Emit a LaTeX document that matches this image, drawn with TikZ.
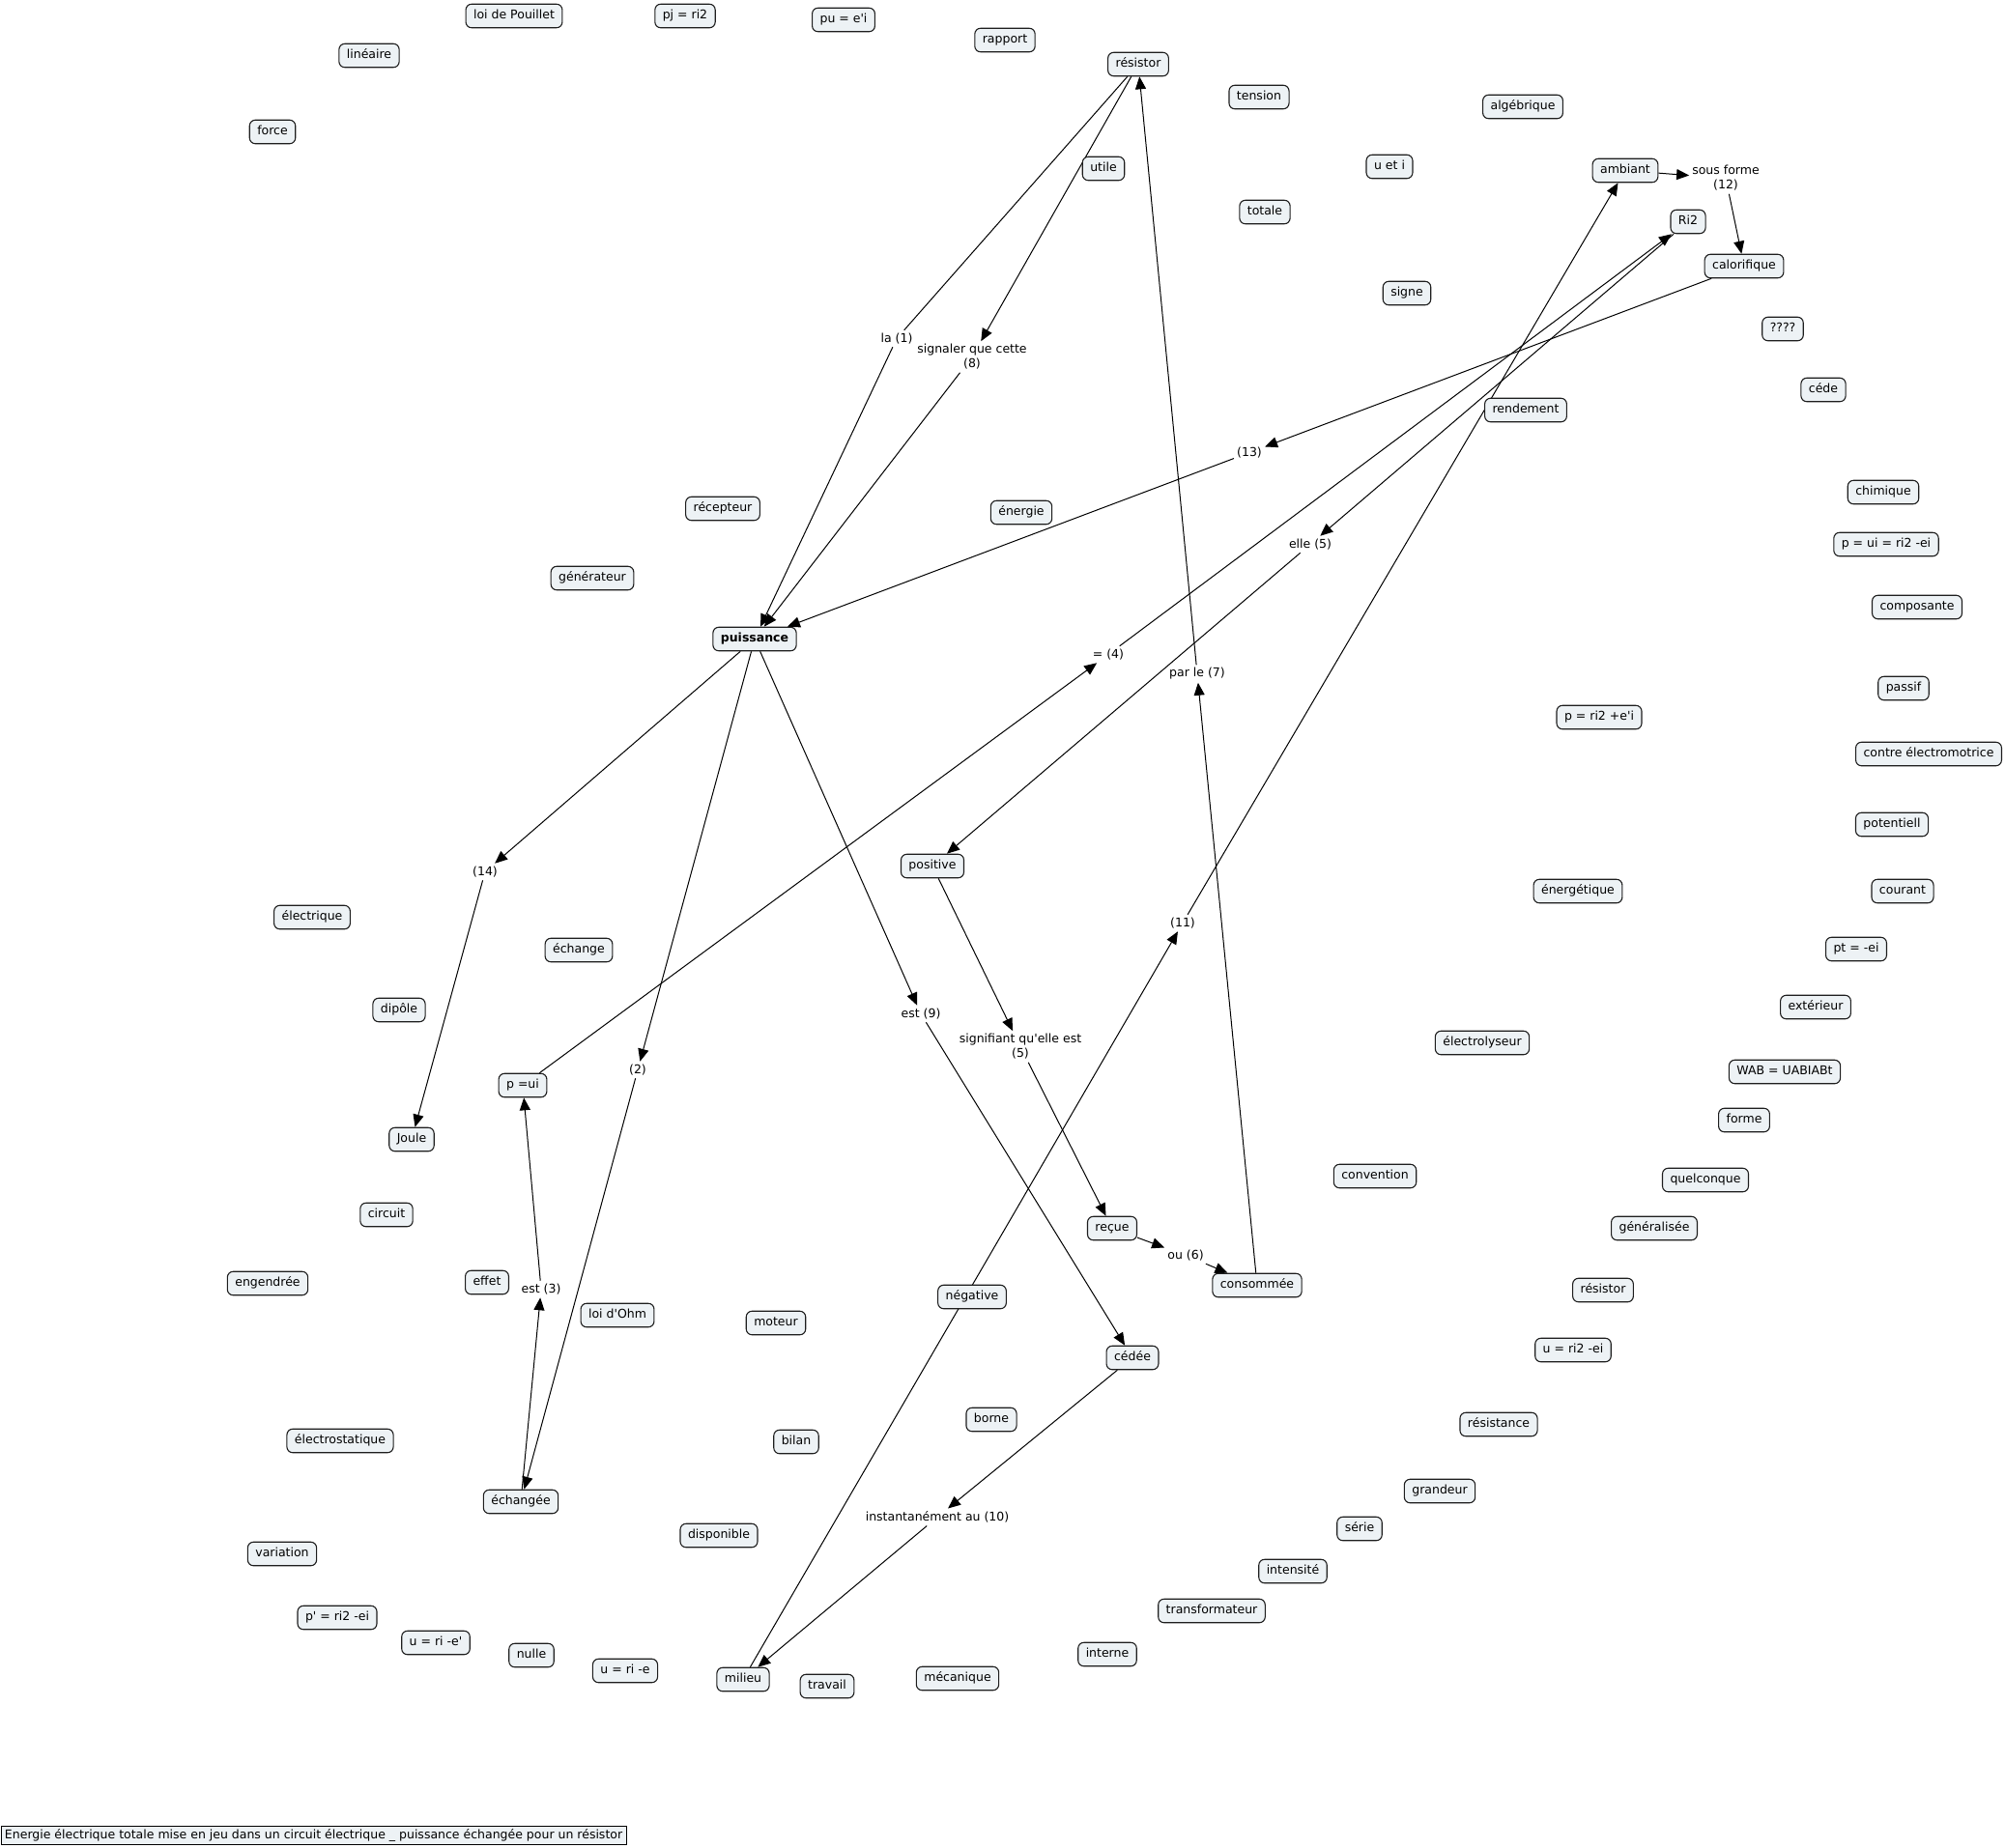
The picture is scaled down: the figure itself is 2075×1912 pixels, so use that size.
\documentclass[tikz,border=0pt]{standalone}
\usepackage{fontspec}
\newfontfamily\dv{DejaVu Sans}
\usetikzlibrary{arrows.meta}
\definecolor{cfill}{RGB}{237,242,245}
\definecolor{cline}{RGB}{30,30,30}
\pgfdeclarelayer{bg}
\pgfdeclarelayer{paper}
\pgfsetlayers{paper,bg,main}
\tikzset{
  fs/.style={font=\dv\fontsize{12.5}{15}\selectfont},
  c/.style={fs, draw=cline, fill=cfill, rounded corners=6pt, line width=1.1pt,
    inner xsep=8pt, inner ysep=6pt, text height=9.5pt, text depth=3pt},
  lbl/.style={fs, inner sep=3pt, align=center},
  ln/.style={draw=black, line width=1pt},
  arr/.style={ln, -{Triangle[length=13pt,width=11pt]}},
}
\begin{document}
\begin{tikzpicture}[x=1pt,y=-1pt]
\useasboundingbox (0,0) rectangle (2075,1912);
\begin{pgfonlayer}{paper}
\fill[white] (0,0) rectangle (2075,1912);
\end{pgfonlayer}
\begin{scope}[shift={(0,1.5)}]
% concepts
\node[c] (pouillet) at (532,15) {loi de Pouillet};
\node[c] (pj) at (709,15) {pj = ri2};
\node[c] (pu) at (873,19) {pu = e'i};
\node[c] (lineaire) at (382,56) {linéaire};
\node[c] (rapport) at (1040,40) {rapport};
\node[c] (res1) at (1178,65) {résistor};
\node[c] (force) at (282,135) {force};
\node[c] (tension) at (1303,99) {tension};
\node[c] (algeb) at (1576,109) {algébrique};
\node[c] (utile) at (1142,173) {utile};
\node[c] (uei) at (1438,171) {u et i};
\node[c] (amb) at (1682,175) {ambiant};
\node[c] (totale) at (1309,218) {totale};
\node[c] (ri2) at (1747,228) {Ri2};
\node[c] (calo) at (1805,274) {calorifique};
\node[c] (signe) at (1456,302) {signe};
\node[c] (qqq) at (1845,339) {????};
\node[c] (cede) at (1887,402) {céde};
\node[c] (rend) at (1579,423) {rendement};
\node[c] (chim) at (1949,508) {chimique};
\node[c] (recep) at (748,525) {récepteur};
\node[c] (energie) at (1057,529) {énergie};
\node[c] (pui3) at (1952,562) {p = ui = ri2 -ei};
\node[c] (gener) at (613,597) {générateur};
\node[c] (compo) at (1984,627) {composante};
\node[c,font=\dv\bfseries\fontsize{12.5}{15}\selectfont] (puis) at (781,660) {puissance};
\node[c] (passif) at (1970,711) {passif};
\node[c] (pri2) at (1655,741) {p = ri2 +e'i};
\node[c] (contre) at (1996,779) {contre électromotrice};
\node[c] (potent) at (1958,852) {potentiell};
\node[c] (pos) at (965,895) {positive};
\node[c] (energet) at (1633,921) {énergétique};
\node[c] (courant) at (1969,921) {courant};
\node[c] (elec) at (323,948) {électrique};
\node[c] (echange) at (599,982) {échange};
\node[c] (pt) at (1921,981) {pt = -ei};
\node[c] (dipole) at (413,1044) {dipôle};
\node[c] (exter) at (1879,1041) {extérieur};
\node[c] (electro) at (1534,1078) {électrolyseur};
\node[c] (wab) at (1847,1108) {WAB = UABIABt};
\node[c] (pui) at (541,1122) {p =ui};
\node[c] (forme) at (1805,1158) {forme};
\node[c] (joule) at (426,1178) {Joule};
\node[c] (conv) at (1423,1216) {convention};
\node[c] (quel) at (1765,1220) {quelconque};
\node[c] (circuit) at (400,1256) {circuit};
\node[c] (recue) at (1151,1270) {reçue};
\node[c] (gene) at (1712,1270) {généralisée};
\node[c] (engen) at (277,1327) {engendrée};
\node[c] (effet) at (504,1326) {effet};
\node[c] (cons) at (1301,1329) {consommée};
\node[c] (res2) at (1659,1334) {résistor};
\node[c] (neg) at (1006,1341) {négative};
\node[c] (ohm) at (639,1360) {loi d'Ohm};
\node[c] (moteur) at (803,1368) {moteur};
\node[c] (uri2) at (1628,1396) {u = ri2 -ei};
\node[c] (cedee) at (1172,1404) {cédée};
\node[c] (borne) at (1026,1468) {borne};
\node[c] (resist) at (1551,1473) {résistance};
\node[c] (estat) at (352,1490) {électrostatique};
\node[c] (bilan) at (824,1491) {bilan};
\node[c] (grand) at (1490,1542) {grandeur};
\node[c] (echg) at (539,1553) {échangée};
\node[c] (serie) at (1407,1581) {série};
\node[c] (dispo) at (744,1588) {disponible};
\node[c] (variation) at (292,1607) {variation};
\node[c] (intens) at (1338,1625) {intensité};
\node[c] (transfo) at (1254,1666) {transformateur};
\node[c] (pprime) at (349,1673) {p' = ri2 -ei};
\node[c] (urie1) at (451,1699) {u = ri -e'};
\node[c] (nulle) at (550,1712) {nulle};
\node[c] (interne) at (1146,1711) {interne};
\node[c] (urie2) at (647,1728) {u = ri -e};
\node[c] (milieu) at (769,1737) {milieu};
\node[c] (travail) at (856,1744) {travail};
\node[c] (meca) at (991,1736) {mécanique};
% linking phrases
\node[lbl] (sf12) at (1786,183) {sous forme\\(12)};
\node[lbl] (la1) at (928,349) {la (1)};
\node[lbl] (sig8) at (1006,368) {signaler que cette\\(8)};
\node[lbl] (l13) at (1293,467) {(13)};
\node[lbl] (elle5) at (1356,562) {elle (5)};
\node[lbl] (l4) at (1147,676) {= (4)};
\node[lbl] (par7) at (1239,696) {par le (7)};
\node[lbl] (l14) at (502,901) {(14)};
\node[lbl] (l11) at (1224,954) {(11)};
\node[lbl] (est9) at (953,1048) {est (9)};
\node[lbl] (sig5) at (1056,1082) {signifiant qu'elle est\\(5)};
\node[lbl] (l2) at (660,1106) {(2)};
\node[lbl] (ou6) at (1227,1298) {ou (6)};
\node[lbl] (est3) at (560,1333) {est (3)};
\node[lbl] (inst10) at (970,1569) {instantanément au (10)};
% footer
\node[fs, draw=black, fill=cfill, line width=1pt, anchor=west, inner xsep=4pt, inner ysep=3pt,
  text height=9.5pt, text depth=3pt] (footer) at (0.5,1898.5)
  {Energie électrique totale mise en jeu dans un circuit électrique \_ puissance échangée pour un résistor};
\end{scope}
% connectors
\begin{pgfonlayer}{bg}
\draw[ln] (res1) -- (la1);
\draw[arr] (la1) -- (puis);
\draw[arr] (res1) -- (sig8);
\draw[arr] (sig8) -- (puis);
\draw[arr] (calo) -- (l13);
\draw[arr] (l13) -- (puis);
\draw[arr] (amb) -- (sf12);
\draw[arr] (sf12) -- (calo);
\draw[arr] (l11) -- (amb);
\draw[arr] (milieu) -- (l11);
\draw[arr] (l4) -- (ri2);
\draw[arr] (pui) -- (l4);
\draw[arr] (ri2) -- (elle5);
\draw[arr] (elle5) -- (pos);
\draw[arr] (pos) -- (sig5);
\draw[arr] (sig5) -- (recue);
\draw[arr] (recue) -- (ou6);
\draw[arr] (ou6) -- (cons);
\draw[arr] (cons) -- (par7);
\draw[arr] (par7) -- (res1);
\draw[arr] (puis) -- (l14);
\draw[arr] (l14) -- (joule);
\draw[arr] (puis) -- (l2);
\draw[arr] (l2) -- (echg);
\draw[arr] (echg) -- (est3);
\draw[arr] (est3) -- (pui);
\draw[arr] (puis) -- (est9);
\draw[arr] (est9) -- (cedee);
\draw[arr] (cedee) -- (inst10);
\draw[arr] (inst10) -- (milieu);
\end{pgfonlayer}
\end{tikzpicture}
\end{document}
